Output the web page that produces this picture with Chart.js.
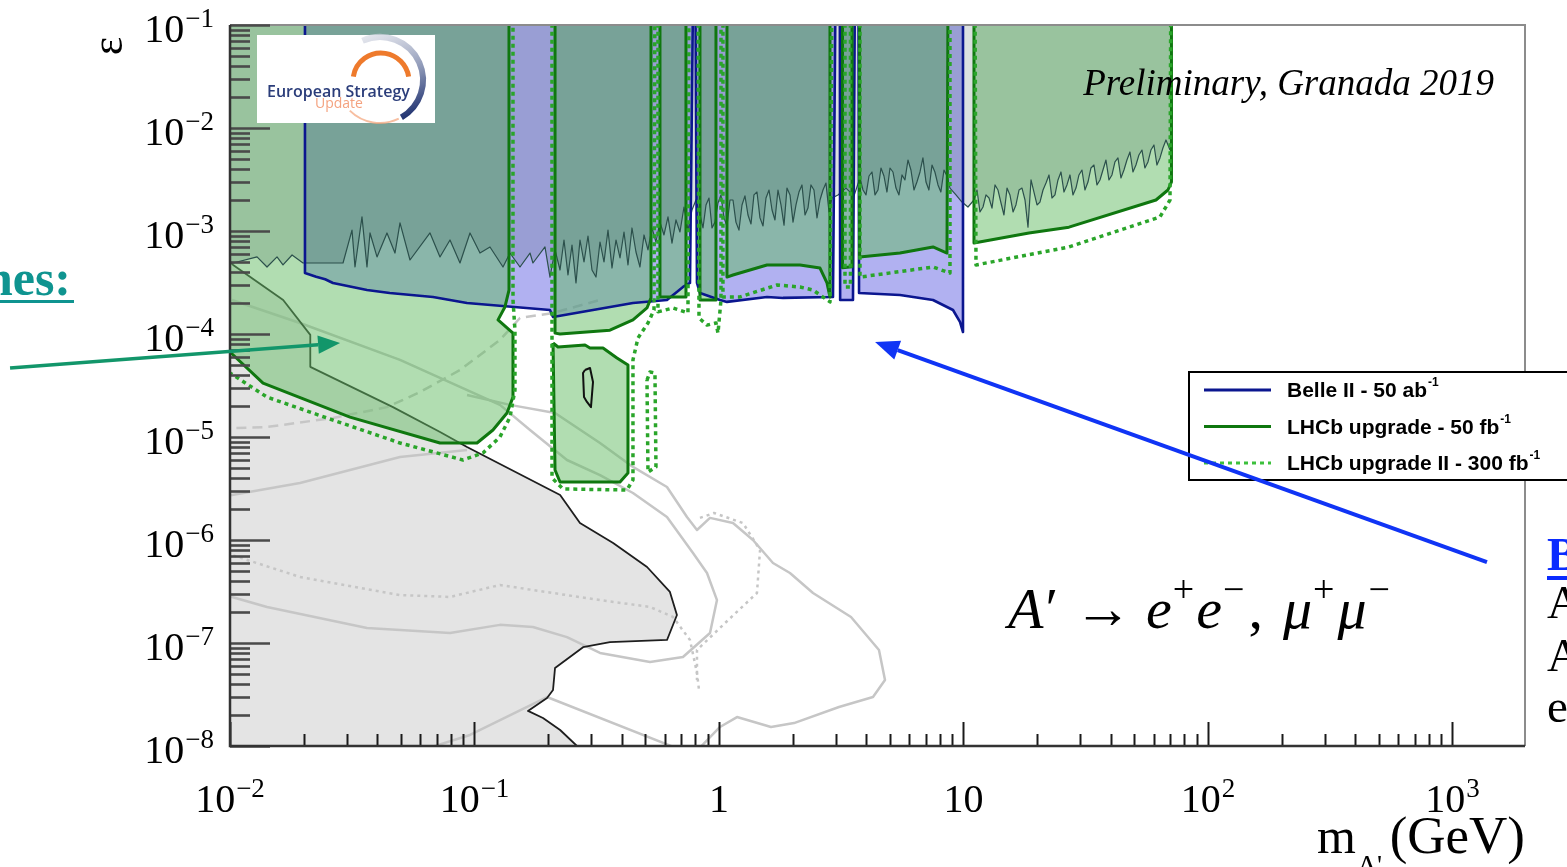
<!DOCTYPE html>
<html>
<head>
<meta charset="utf-8">
<script src="https://cdn.jsdelivr.net/npm/chart.js@4.4.1/dist/chart.umd.min.js"></script>
<style>
  html, body { margin: 0; padding: 0; background: #fff; overflow: hidden; }
  canvas { display: block; }
</style>
</head>
<body>
<canvas id="c" width="1567" height="867"></canvas>
<script>
// ---- Dark photon A' -> ee, mumu : coupling epsilon vs mass (GeV) ----
// Every curve is a list of [mass in GeV, epsilon] pairs.

// Existing beam-dump exclusion (grey area, bounded by the black curve)
const beamDumpEdge = [[0.01,5.0e-4],[0.0103,4.68e-4],[0.0165,2.14e-4],[0.0213,9.8e-5],[0.0213,4.8e-5],[0.0464,1.95e-5],[0.0723,1.12e-5],[0.0932,8.0e-6],[0.224,2.73e-6],[0.270,1.46e-6],[0.369,9.35e-7],[0.508,5.47e-7],[0.630,3.13e-7],[0.673,1.87e-7],[0.613,1.07e-7],[0.358,1.02e-7],[0.278,9.1e-8],[0.2135,5.72e-8],[0.2095,3.5e-8],[0.198,2.92e-8],[0.1655,2.19e-8],[0.1906,1.87e-8],[0.224,1.43e-8],[0.2625,1.0e-8],[0.27,5e-9]];
const beamDumpClose = [[0.005,5e-9],[0.005,5.0e-4]];

// Existing prompt-search limit (BaBar + LHCb Run 2), excluded above the line
const existingLimit = [[0.005,4.89e-4],[0.0103,4.89e-4],[0.0129,5.6e-4],[0.01417,4.47e-4],[0.01557,5.6e-4],[0.01647,4.68e-4],[0.01794,5.85e-4],[0.01989,4.89e-4],[0.02899,4.89e-4],[0.03155,1.02e-3],[0.03245,4.47e-4],[0.03466,1.37e-3],[0.03633,4.47e-4],[0.03738,9.57e-4],[0.03993,5.6e-4],[0.04386,9.57e-4],[0.04729,6.11e-4],[0.04958,1.2e-3],[0.05447,5.23e-4],[0.06577,9.57e-4],[0.07225,5.6e-4],[0.0794,8.18e-4],[0.08724,4.89e-4],[0.09585,9.57e-4],[0.1053,6.11e-4],[0.1157,7.0e-4],[0.1308,4.47e-4],[0.1397,6.11e-4],[0.1535,4.47e-4],[0.1687,6.11e-4],[0.1734,4.89e-4],[0.1942,7.0e-4],[0.2036,3.57e-4],
[0.2135,6.55e-4],[0.2238,4.18e-4],[0.2323,8.18e-4],[0.2412,3.74e-4],[0.2505,7.31e-4],[0.2601,3.13e-4],[0.2701,8.18e-4],[0.2805,5.0e-4],[0.2912,8.94e-4],[0.3024,4.18e-4],[0.314,3.57e-4],[0.3261,7.82e-4],[0.3386,5.0e-4],[0.3516,1.02e-3],[0.3651,4.37e-4],[0.3791,8.18e-4],[0.3937,5.47e-4],[0.4088,9.78e-4],[0.4244,4.68e-4],[0.4407,1.07e-3],[0.4576,6.25e-4],[0.4751,4.47e-4],[0.4935,9.15e-4],[0.5124,6.55e-4],[0.5321,1.07e-3],[0.5524,7.82e-4],[0.5736,1.22e-3],[0.5957,9.15e-4],[0.6186,1.37e-3],[0.6424,7.64e-4],[0.6669,1.28e-3],[0.6925,9.78e-4],[0.7192,1.71e-3],[0.7467,1.02e-3],[0.7755,1.6e-3],
[0.8052,2.0e-3],[0.8363,1.43e-3],[0.8601,1.07e-3],[0.8849,1.79e-3],[0.9101,2.09e-3],[0.9362,1.07e-3],[0.963,1.22e-3],[0.9906,1.87e-3],[1.019,2.24e-3],[1.048,1.34e-3],[1.078,1.12e-3],[1.109,2.0e-3],[1.141,2.0e-3],[1.173,1.22e-3],[1.207,1.02e-3],[1.242,1.79e-3],[1.277,2.19e-3],[1.314,1.43e-3],[1.352,1.17e-3],[1.39,2.24e-3],[1.43,2.39e-3],[1.471,1.34e-3],[1.514,1.12e-3],[1.557,2.09e-3],[1.602,2.5e-3],[1.648,1.6e-3],[1.694,1.28e-3],[1.743,2.5e-3],[1.793,1.79e-3],[1.845,1.14e-3],[1.897,2.61e-3],[1.952,2.24e-3],[2.008,1.22e-3],[2.065,1.79e-3],[2.124,2.39e-3],[2.185,2.8e-3],[2.248,1.43e-3],[2.312,1.67e-3],[2.378,2.8e-3],[2.446,2.5e-3],[2.517,1.34e-3],[2.589,2.0e-3],[2.663,2.5e-3],[2.739,2.92e-3],[2.818,1.53e-3],[2.899,2.09e-3],
[3.067,2.24e-3],[3.307,2.61e-3],[3.566,2.19e-3],[3.773,3.27e-3],[3.882,2.5e-3],[3.993,2.24e-3],[4.108,3.42e-3],[4.225,3.74e-3],[4.346,2.24e-3],[4.47,2.5e-3],[4.598,4.09e-3],[4.729,3.42e-3],[4.865,2.39e-3],[5.005,4.09e-3],[5.147,3.74e-3],[5.296,2.61e-3],[5.446,2.24e-3],[5.605,3.5e-3],[5.762,3.13e-3],[5.929,4.89e-3],[6.097,3.91e-3],[6.274,2.5e-3],[6.45,2.99e-3],[6.639,3.74e-3],[6.825,5.12e-3],[7.025,2.99e-3],[7.221,2.5e-3],[7.434,4.37e-3],[7.64,3.74e-3],[7.866,2.8e-3],[8.083,2.39e-3],[8.322,3.91e-3],[8.561,3.42e-3],[8.806,2.61e-3],[9.318,2.24e-3],[9.86,1.91e-3],[10.43,1.71e-3],
[11.04,2.0e-3],[11.36,2.5e-3],[11.68,1.53e-3],[12.02,1.71e-3],[12.36,2.24e-3],[12.72,2.09e-3],[13.08,1.67e-3],[13.46,2.8e-3],[13.84,2.5e-3],[14.24,1.87e-3],[14.64,1.43e-3],[15.07,2.61e-3],[15.49,2.24e-3],[15.95,1.53e-3],[16.39,1.79e-3],[16.87,2.5e-3],[17.35,2.61e-3],[17.85,2.0e-3],[18.36,1.09e-3],[18.89,3.13e-3],[19.42,2.39e-3],[19.99,1.79e-3],[20.55,1.91e-3],[21.15,2.5e-3],[21.75,2.92e-3],[22.38,3.5e-3],[23.01,2.09e-3],[23.67,2.24e-3],[24.35,3.13e-3],[25.05,3.74e-3],[25.76,2.39e-3],[26.5,2.8e-3],[27.26,3.5e-3],[28.04,2.24e-3],[28.85,2.61e-3],[29.67,3.5e-3],[30.52,3.91e-3],[31.39,2.5e-3],[32.3,2.99e-3],[33.22,4.09e-3],[34.17,4.37e-3],[35.15,2.8e-3],[36.16,3.13e-3],[37.19,3.91e-3],[38.26,4.89e-3],[39.35,3.13e-3],[40.49,3.5e-3],[41.64,4.68e-3],[42.84,5.12e-3],[44.06,3.27e-3],[45.33,3.91e-3],[46.62,4.89e-3],[47.97,5.85e-3],[49.33,3.74e-3],[50.75,4.37e-3],[52.19,5.47e-3],[53.71,6.11e-3],[55.22,4.09e-3],[56.83,4.68e-3],[58.43,6.11e-3],[60.13,6.84e-3],[61.83,4.37e-3],[63.64,5.12e-3],[65.42,6.4e-3],[67.33,7.65e-3],[69.93,6.11e-3]];
const existingClose = [[69.93,0.3],[0.005,0.3]];

// Other existing limits drawn as light grey outlines
const greySolidA = [[0.01019,2.14e-4],[0.01933,1.28e-4],[0.04958,5.6e-5],[0.1271,2.05e-5],[0.1687,1.17e-5],[0.2389,5.98e-6],[0.3261,4.27e-6],[0.4448,2.86e-6],[0.6127,1.67e-6],[0.7829,7.48e-7],[0.8932,4.78e-7],[0.9813,2.61e-7],[0.9188,1.25e-7],[0.7125,7.31e-8],[0.5222,6.54e-8],[0.3261,8.0e-8],[0.2389,1.14e-7],[0.1734,1.43e-7],[0.1271,1.5e-7],[0.0794,1.25e-7],[0.03633,1.4e-7],[0.01417,2.24e-7],[0.01019,2.8e-7],[0.005,3.0e-7]];
const greySolidB = [[0.0932,2.56e-5],[0.1397,2.05e-5],[0.2135,1.71e-5],[0.3261,8.75e-6],[0.4448,5.12e-6],[0.6127,3.27e-6],[0.7397,1.67e-6],[0.8128,1.25e-6],[0.9188,1.64e-6],[1.141,1.46e-6],[1.377,1.0e-6],[1.663,5.98e-7],[1.951,4.78e-7],[2.424,3.06e-7],[3.467,1.79e-7],[4.512,8.55e-8],[4.775,4.38e-8],[4.265,2.99e-8],[3.096,2.39e-8],[2.027,1.67e-8],[1.632,1.53e-8],[1.185,1.91e-8],[1.0095,1.53e-8],[0.8128,9e-9]];
const greySolidC = [[0.05984,9e-9],[0.09585,1.28e-8],[0.1979,2.99e-8],[0.7125,9e-9]];
const greySolidD = [[0.005,2.7e-6],[0.01019,2.73e-6],[0.01933,3.57e-6],[0.04958,6.4e-6],[0.09318,7.48e-6]];
const greyDottedA = [[0.005,7.6e-7],[0.01019,7.14e-7],[0.01933,4.38e-7],[0.04958,2.92e-7],[0.0794,2.8e-7],[0.1271,3.66e-7],[0.1734,3.27e-7],[0.3261,2.61e-7],[0.5222,2.24e-7],[0.6484,1.79e-7],[0.7609,1.07e-7],[0.8128,5.12e-8],[0.8284,3.5e-8]];
const greyDottedB = [[0.8361,1.64e-6],[0.9541,1.83e-6],[1.254,1.46e-6],[1.472,8.0e-7],[1.43,3.06e-7],[1.058,1.56e-7],[0.8128,8.55e-8],[0.8128,4.38e-8]];
const greyDashed = [[0.005,1.2e-5],[0.01019,1.22e-5],[0.01417,1.25e-5],[0.02638,1.53e-5],[0.04386,1.95e-5],[0.05984,2.73e-5],[0.08724,4.47e-5],[0.1271,8.75e-5],[0.1535,1.43e-4],[0.2095,1.6e-4],[0.3261,2.14e-4]];

// Belle II - 50 ab^-1 reach (excluded above the curve)
const belle2 = [[0.02026,0.3],[0.02026,3.91e-4],[0.0225,3.6e-4],[0.0245,3.4e-4],[0.02638,3.13e-4],[0.03633,2.67e-4],[0.045,2.5e-4],[0.06765,2.29e-4],[0.09318,2.0e-4],[0.2036,1.71e-4],[0.2095,1.46e-4],[0.4448,2.0e-4],[0.6127,2.14e-4],[0.7125,2.86e-4],[0.7609,3.13e-4],[0.785,0.3],[0.8,0.3],[0.8128,3.13e-4],[0.8361,2.5e-4],[1.0095,2.14e-4],[1.078,2.05e-4],[1.571,2.29e-4],[1.827,2.24e-4],[2.926,2.29e-4],[3.0,0.3],[3.12,0.3],[3.13,2.14e-4],[3.532,2.14e-4],[3.6,0.3],[3.72,0.3],[3.74,2.5e-4],[5.499,2.39e-4],[7.505,2.14e-4],[9.059,1.71e-4],[9.676,1.31e-4],[9.954,1.045e-4],[9.954,0.3]];

// LHCb upgrade - 50 fb^-1 (solid)
const lhcbLow = [[0.005,0.3],[0.1384,0.3],[0.1384,2.67e-4],[0.1332,1.83e-4],[0.1248,1.37e-4],[0.1437,1.02e-4],[0.1437,2.44e-5],[0.1358,1.71e-5],[0.119,1.17e-5],[0.1024,8.75e-6],[0.07225,8.75e-6],[0.03095,1.56e-5],[0.01365,3.34e-5],[0.01,6.68e-5],[0.005,6.68e-5]];
const lhcbEta = [[0.2135,0.3],[0.2135,1.02e-4],[0.2238,1.0e-4],[0.3581,1.09e-4],[0.4448,1.37e-4],[0.5076,1.79e-4],[0.5272,2.24e-4],[0.5272,0.3]];
const lhcbRho = [[0.5736,0.3],[0.5736,2.29e-4],[0.7328,2.29e-4],[0.7328,0.3]];
const lhcbPhi = [[0.8361,0.3],[0.8361,2.14e-4],[0.972,2.14e-4],[0.972,0.3]];
const lhcbMid = [[1.078,0.3],[1.078,3.57e-4],[1.141,3.74e-4],[1.571,4.68e-4],[2.145,4.68e-4],[2.589,4.37e-4],[2.765,3.13e-4],[2.844,2.29e-4],[2.844,0.3]];
const lhcbPsi = [[3.2,0.3],[3.2,4.4e-4],[3.5,4.5e-4],[3.5,0.3]];
const lhcbUps = [[3.76,0.3],[3.76,5.6e-4],[5.499,6.11e-4],[7.505,7.0e-4],[8.561,6.11e-4],[8.65,0.3]];
const lhcbHigh = [[11.04,0.3],[11.04,7.64e-4],[18.53,9.57e-4],[27.01,1.09e-3],[61.28,2.0e-3],[68.6,2.5e-3],[70.9,2.99e-3],[70.9,0.3]];
const lhcbDisplaced = [[0.2095,8.18e-5],[0.2196,7.48e-5],[0.2831,7.82e-5],[0.2968,7.31e-5],[0.3354,7.31e-5],[0.3826,5.85e-5],[0.4244,5.0e-5],[0.4244,4.47e-6],[0.3937,3.66e-6],[0.2238,3.66e-6],[0.2135,4.78e-6],[0.2095,8.18e-5]];
const displacedIsland = [[0.2831,4.47e-5],[0.2968,4.68e-5],[0.3053,3.42e-5],[0.2995,1.95e-5],[0.2884,2.19e-5],[0.2805,2.44e-5],[0.2779,4.18e-5],[0.2831,4.47e-5]];

// LHCb upgrade II - 300 fb^-1 (dotted)
const lhcb2Low = [[0.0099,4.25e-5],[0.01417,2.44e-5],[0.02638,1.46e-5],[0.04958,8.75e-6],[0.08975,5.98e-6],[0.1083,7.0e-6],[0.1271,1.0e-5],[0.1397,1.56e-5],[0.1464,2.86e-5],[0.1464,1.09e-4],[0.1437,2.14e-4],[0.1437,0.3]];
const lhcb2Eta = [[0.2075,0.3],[0.2075,4.0e-6],[0.2301,3.13e-6],[0.4204,3.06e-6],[0.4448,3.83e-6],[0.4448,5.6e-5],[0.4663,9.14e-5],[0.5124,1.28e-4],[0.5423,1.71e-4],[0.5472,0.3]];
const lhcb2Rho = [[0.5629,0.3],[0.5629,1.64e-4],[0.6484,1.79e-4],[0.7467,1.6e-4],[0.754,0.3]];
const lhcb2Phi = [[0.8206,0.3],[0.8284,1.43e-4],[0.8932,1.22e-4],[0.972,1.28e-4],[0.9906,1.02e-4],[1.019,2.14e-4],[1.019,0.3]];
const lhcb2Mid = [[1.038,0.3],[1.038,2.29e-4],[1.219,2.29e-4],[1.727,2.99e-4],[2.145,2.86e-4],[2.424,2.67e-4],[2.844,2.05e-4],[2.899,0.3]];
const lhcb2Psi = [[3.276,0.3],[3.276,2.86e-4],[3.45,2.86e-4],[3.45,0.3]];
const lhcb2Ups = [[3.773,0.3],[3.773,3.57e-4],[7.505,4.47e-4],[8.806,3.91e-4],[8.806,0.3]];
const lhcb2High = [[11.14,0.3],[11.25,4.68e-4],[27.01,7.0e-4],[63.64,1.37e-3],[69.93,2.0e-3],[70.5,0.3]];
const lhcb2Island = [[0.5076,3.57e-5],[0.5222,4.28e-5],[0.5472,4.18e-5],[0.5524,5.12e-6],[0.5124,4.57e-6],[0.5076,3.57e-5]];

// Axis ticks and labels
const yDecades = [-8,-7,-6,-5,-4,-3,-2,-1];
const xDecades = [-2,-1,0,1,2,3];
const xTickBase = ['10','10','1','10','10','10'];
const xTickExp = ['\u22122','\u22121','','','2','3'];
const legendLabels = ['Belle II - 50 ab', 'LHCb upgrade - 50 fb', 'LHCb upgrade II - 300 fb'];
const legendSup = '-1';

// ---- styles ----
const BELLE_FILL = 'rgba(99,99,227,0.5)';
const LHCB_FILL = 'rgba(99,187,99,0.5)';
const EXIST_FILL = 'rgba(30,60,60,0.16)';
const BEAMDUMP_FILL = '#e4e4e4';
const BELLE_LINE = '#0b168f';
const LHCB_LINE = '#0f770f';
const LHCB2_LINE = '#2aa52a';
const GREY_LINE = '#c6c6c6';
const NOISE_LINE = '#2c504c';
const SERIF = '"Liberation Serif","Times New Roman",serif';
const SANS = '"Liberation Sans",Arial,sans-serif';

const pts = arr => arr.map(([x, y]) => ({ x, y }));
const area = (arr, color, order) => ({
  data: pts(arr), showLine: true, fill: 'shape', backgroundColor: color,
  borderColor: 'rgba(0,0,0,0)', borderWidth: 1, pointRadius: 0, order, clip: 0
});
const curve = (arr, color, width, dash, order) => ({
  data: pts(arr), showLine: true, fill: false, borderColor: color, borderWidth: width,
  borderDash: dash || [], borderJoinStyle: 'round', pointRadius: 0, order, clip: 0
});

const lhcbSolid = [lhcbLow, lhcbEta, lhcbRho, lhcbPhi, lhcbMid, lhcbPsi, lhcbUps, lhcbHigh, lhcbDisplaced];
const lhcbDotted = [lhcb2Low, lhcb2Eta, lhcb2Rho, lhcb2Phi, lhcb2Mid, lhcb2Psi, lhcb2Ups, lhcb2High, lhcb2Island];

const datasets = [
  area(beamDumpEdge.concat(beamDumpClose), BEAMDUMP_FILL, 100),
  curve(greySolidA, GREY_LINE, 2.5, null, 90),
  curve(greySolidB, GREY_LINE, 2.5, null, 90),
  curve(greySolidC, GREY_LINE, 2.5, null, 90),
  curve(greySolidD, GREY_LINE, 2.5, null, 90),
  curve(greyDottedA, GREY_LINE, 2.5, [3, 4], 90),
  curve(greyDottedB, GREY_LINE, 2.5, [3, 4], 90),
  curve(greyDashed, GREY_LINE, 2.5, [10, 6], 90),
  curve(beamDumpEdge, '#1e1e1e', 1.8, null, 85),
  area(belle2, BELLE_FILL, 80),
  ...lhcbSolid.map(r => area(r, LHCB_FILL, 70)),
  area(existingLimit.concat(existingClose), EXIST_FILL, 60),
  curve(existingLimit, NOISE_LINE, 1.2, null, 55),
  curve(displacedIsland, '#111', 2, null, 50),
  curve(belle2, BELLE_LINE, 2.6, null, 40),
  ...lhcbSolid.map(r => curve(r, LHCB_LINE, 3, null, 30)),
  ...lhcbDotted.map(r => curve(r, LHCB2_LINE, 3.5, [4, 4], 20))
];

// ---- drawing helpers for the decorations ----
function powerLabel(ctx, base, exp, x, yBase, align) {
  ctx.font = `40px ${SERIF}`;
  const bw = ctx.measureText(base).width;
  ctx.font = `27px ${SERIF}`;
  const ew = exp ? ctx.measureText(exp).width + 1 : 0;
  const total = bw + ew;
  const x0 = align === 'center' ? x - total / 2 : align === 'right' ? x - total : x;
  ctx.textAlign = 'left';
  ctx.textBaseline = 'alphabetic';
  ctx.font = `40px ${SERIF}`;
  ctx.fillText(base, x0, yBase);
  if (exp) { ctx.font = `27px ${SERIF}`; ctx.fillText(exp, x0 + bw + 1, yBase - 15); }
}

function arrow(ctx, x1, y1, x2, y2, color, w, head) {
  const ang = Math.atan2(y2 - y1, x2 - x1);
  const bx = x2 - head * Math.cos(ang), by = y2 - head * Math.sin(ang);
  ctx.strokeStyle = color; ctx.lineWidth = w; ctx.lineCap = 'butt';
  ctx.beginPath(); ctx.moveTo(x1, y1); ctx.lineTo(bx, by); ctx.stroke();
  ctx.fillStyle = color;
  ctx.beginPath(); ctx.moveTo(x2, y2);
  ctx.lineTo(bx + head * 0.42 * Math.sin(ang), by - head * 0.42 * Math.cos(ang));
  ctx.lineTo(bx - head * 0.42 * Math.sin(ang), by + head * 0.42 * Math.cos(ang));
  ctx.closePath(); ctx.fill();
}

function drawLogo(ctx, x0, y0) {
  ctx.fillStyle = '#fff';
  ctx.fillRect(x0, y0, 178, 88);
  const cx = x0 + 123, cy = y0 + 45;
  const g = ctx.createLinearGradient(cx - 10, cy - 45, cx + 25, cy + 40);
  g.addColorStop(0, 'rgba(215,218,228,0.7)');
  g.addColorStop(0.55, '#8a95b5');
  g.addColorStop(1, '#1d2f6e');
  ctx.strokeStyle = g; ctx.lineWidth = 6;
  ctx.beginPath(); ctx.arc(cx, cy, 43, -1.99, 1.05); ctx.stroke();
  ctx.strokeStyle = 'rgba(244,168,128,0.75)'; ctx.lineWidth = 2;
  ctx.beginPath(); ctx.arc(cx, cy, 43, 1.12, 2.35); ctx.stroke();
  ctx.strokeStyle = '#ee7a2c'; ctx.lineWidth = 5;
  ctx.beginPath(); ctx.arc(cx + 1, cy + 1, 28, Math.PI * 1.05, Math.PI * 1.95); ctx.stroke();
  ctx.textAlign = 'left'; ctx.textBaseline = 'alphabetic';
  ctx.fillStyle = '#2b3d7a'; ctx.font = '600 16px "Open Sans",sans-serif';
  ctx.fillText('European Strategy', x0 + 10, y0 + 62);
  ctx.fillStyle = '#f4a27f'; ctx.font = '14px "Open Sans",sans-serif';
  ctx.fillText('Update', x0 + 58, y0 + 73);
}

function drawProcess(ctx, x, yb) {
  const big = `58px ${SERIF}`, bigI = `italic 58px ${SERIF}`, small = `38px ${SERIF}`, rise = 26;
  // [text, font, raise, extra gap after]
  const parts = [
    ['A', bigI, 0, 2], ['\u2032', big, 0, 16], ['\u2192', big, 0, 14],
    ['e', bigI, 0, 1], ['+', small, rise, 2], ['e', bigI, 0, 1], ['\u2212', small, rise, 4],
    [',', big, 0, 20], ['\u03bc', bigI, 0, 1], ['+', small, rise, 3],
    ['\u03bc', bigI, 0, 2], ['\u2212', small, rise, 0]
  ];
  ctx.textAlign = 'left'; ctx.textBaseline = 'alphabetic'; ctx.fillStyle = '#000';
  let cx = x;
  for (const [t, f, r, gap] of parts) {
    ctx.font = f; ctx.fillText(t, cx, yb - r); cx += ctx.measureText(t).width + gap;
  }
}

const decorations = {
  id: 'decorations',
  afterDatasetsDraw(chart) {
    const { ctx, chartArea: a, scales: { x, y } } = chart;
    ctx.save();

    // frame
    ctx.lineCap = 'butt';
    ctx.strokeStyle = '#8c8c8c'; ctx.lineWidth = 2;
    ctx.beginPath(); ctx.moveTo(a.left, a.top); ctx.lineTo(a.right, a.top); ctx.lineTo(a.right, a.bottom); ctx.stroke();

    // y ticks (inside the frame)
    ctx.strokeStyle = '#4a4a4a'; ctx.lineWidth = 2.6;
    for (const d of yDecades) {
      for (let k = 1; k <= 9; k++) {
        if (d === -1 && k > 1) break;
        const py = Math.round(y.getPixelForValue(k * Math.pow(10, d))) + 0.5;
        const len = k === 1 ? 40 : 20;
        ctx.beginPath(); ctx.moveTo(a.left, py); ctx.lineTo(a.left + len, py); ctx.stroke();
      }
    }
    // x ticks
    ctx.strokeStyle = '#1a1a1a'; ctx.lineWidth = 2;
    for (const d of xDecades) {
      for (let k = 1; k <= 9; k++) {
        const v = k * Math.pow(10, d);
        if (v > x.max) break;
        const px = Math.round(x.getPixelForValue(v)) + 0.5;
        const len = k === 1 ? 24 : 12;
        ctx.beginPath(); ctx.moveTo(px, a.bottom); ctx.lineTo(px, a.bottom - len); ctx.stroke();
      }
    }
    // axes lines
    ctx.strokeStyle = '#333'; ctx.lineWidth = 2.5;
    ctx.beginPath(); ctx.moveTo(a.left, a.top); ctx.lineTo(a.left, a.bottom); ctx.lineTo(a.right, a.bottom); ctx.stroke();

    // tick labels
    ctx.fillStyle = '#000';
    for (const d of yDecades) {
      const py = y.getPixelForValue(Math.pow(10, d));
      powerLabel(ctx, '10', '\u2212' + Math.abs(d), a.left - 16, py + 17, 'right');
    }
    xDecades.forEach((d, i) => {
      const px = x.getPixelForValue(Math.pow(10, d));
      powerLabel(ctx, xTickBase[i], xTickExp[i], px, a.bottom + 66, 'center');
    });

    // axis titles
    ctx.textAlign = 'left'; ctx.textBaseline = 'alphabetic';
    ctx.font = `50px ${SERIF}`;
    ctx.fillText('m', a.right - 208, a.bottom + 107);
    const mw = ctx.measureText('m').width;
    ctx.font = `28px ${SERIF}`;
    ctx.fillText("A'", a.right - 208 + mw + 1, a.bottom + 128);
    ctx.font = `53px ${SERIF}`; ctx.textAlign = 'right';
    ctx.fillText('(GeV)', a.right, a.bottom + 107);

    ctx.save();
    ctx.translate(110, 46); ctx.rotate(-Math.PI / 2);
    ctx.font = `44px ${SERIF}`; ctx.textAlign = 'center'; ctx.textBaseline = 'middle';
    ctx.fillText('\u03b5', 0, 0);
    ctx.restore();

    // logo and captions
    drawLogo(ctx, a.left + 27, a.top + 10);
    ctx.fillStyle = '#000'; ctx.textAlign = 'right'; ctx.textBaseline = 'alphabetic';
    ctx.font = `italic 37px ${SERIF}`;
    ctx.fillText('Preliminary, Granada 2019', a.right - 31, a.top + 70);
    drawProcess(ctx, 1008, 628);

    // legend
    const lx = 1189, ly = 372;
    ctx.fillStyle = '#fff'; ctx.fillRect(lx, ly, 400, 108);
    ctx.strokeStyle = '#000'; ctx.lineWidth = 2; ctx.strokeRect(lx, ly, 400, 108);
    const legendStyles = [[BELLE_LINE, []], [LHCB_LINE, []], ['#3cc03c', [4, 4]]];
    legendLabels.forEach((lab, i) => {
      const cy = ly + 18 + i * 36.5;
      ctx.strokeStyle = legendStyles[i][0]; ctx.lineWidth = 3; ctx.setLineDash(legendStyles[i][1]);
      ctx.beginPath(); ctx.moveTo(lx + 15, cy); ctx.lineTo(lx + 82, cy); ctx.stroke();
      ctx.setLineDash([]);
      ctx.fillStyle = '#000'; ctx.textAlign = 'left'; ctx.textBaseline = 'alphabetic';
      ctx.font = `bold 21px ${SANS}`;
      ctx.fillText(lab, lx + 98, cy + 7);
      const tw = ctx.measureText(lab).width;
      ctx.font = `bold 12px ${SANS}`;
      ctx.fillText(legendSup, lx + 98 + tw + 1, cy - 4);
    });

    // slide annotations around the plot
    ctx.textAlign = 'right'; ctx.textBaseline = 'alphabetic';
    ctx.fillStyle = '#0f9490'; ctx.font = `bold 50px ${SERIF}`;
    ctx.fillText('nes:', 71, 295);
    ctx.fillRect(0, 300, 74, 3);

    ctx.textAlign = 'left';
    ctx.fillStyle = '#0a2bff'; ctx.font = `bold 47px ${SERIF}`;
    ctx.fillText('B', 1547, 570);
    ctx.fillRect(1547, 576, 22, 4);
    ctx.fillStyle = '#000'; ctx.font = `47px ${SERIF}`;
    ctx.fillText('A', 1547, 618);
    ctx.fillText('A', 1547, 671);
    ctx.fillText('e', 1547, 722);

    // arrows (ends given in mass / epsilon)
    arrow(ctx, x.getPixelForValue(0.00126), y.getPixelForValue(4.68e-5),
          x.getPixelForValue(0.0282), y.getPixelForValue(8.18e-5), '#12966a', 3.5, 22);
    arrow(ctx, x.getPixelForValue(1384), y.getPixelForValue(6.11e-7),
          x.getPixelForValue(4.35), y.getPixelForValue(8.36e-5), '#1034f5', 4, 24);

    ctx.restore();
  }
};

new Chart(document.getElementById('c'), {
  type: 'scatter',
  data: { datasets },
  options: {
    responsive: false,
    animation: false,
    events: [],
    layout: { padding: { left: 230, top: 25, right: 42, bottom: 121 } },
    elements: { point: { radius: 0, hoverRadius: 0 }, line: { tension: 0 } },
    scales: {
      x: { type: 'logarithmic', min: 0.01, max: 1980, display: false },
      y: { type: 'logarithmic', min: 1e-8, max: 0.1, display: false }
    },
    plugins: { legend: { display: false }, tooltip: { enabled: false } }
  },
  plugins: [decorations]
});
</script>
</body>
</html>
